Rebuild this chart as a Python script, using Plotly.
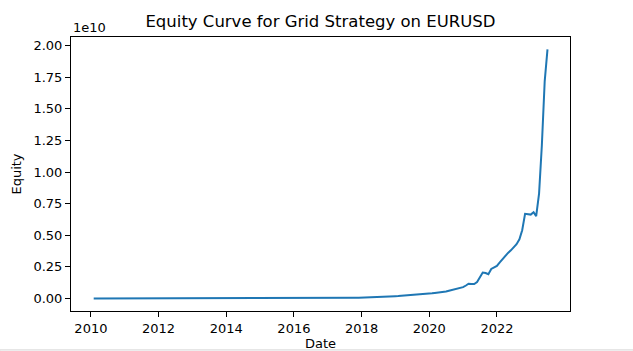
import pandas as pd
import plotly.graph_objects as go

# Month-end dates, Jan 2010 .. Jun 2023
dates = pd.date_range("2010-01-31", "2023-06-30", freq="ME")

# Equity in millions (read/estimated from the chart)
equity_m = [
    # 2010
    0.010, 0.011, 0.012, 0.013, 0.014, 0.016, 0.017, 0.019, 0.021, 0.023, 0.025, 0.027,
    # 2011
    0.030, 0.033, 0.036, 0.040, 0.044, 0.048, 0.053, 0.058, 0.064, 0.070, 0.077, 0.084,
    # 2012
    0.09, 0.10, 0.11, 0.12, 0.13, 0.14, 0.16, 0.17, 0.19, 0.21, 0.23, 0.25,
    # 2013
    0.28, 0.30, 0.33, 0.36, 0.40, 0.44, 0.48, 0.53, 0.58, 0.64, 0.70, 0.77,
    # 2014
    0.85, 0.93, 1.0, 1.1, 1.2, 1.35, 1.5, 1.6, 1.8, 1.95, 2.15, 2.35,
    # 2015
    2.6, 2.9, 3.2, 3.5, 3.8, 4.2, 4.6, 5.1, 5.6, 6.2, 6.8, 7.4,
    # 2016
    8.0, 8.8, 9.7, 10.7, 11.8, 13.0, 14.3, 15.7, 17.3, 19.0, 20.9, 23.0,
    # 2017
    25, 28, 31, 34, 37, 40, 44, 48, 52, 57, 62, 68,
    # 2018
    75, 100, 106, 113, 120, 128, 136, 145, 154, 164, 175, 187,
    # 2019
    200, 212, 225, 240, 255, 270, 287, 305, 325, 345, 366, 390,
    # 2020
    415, 440, 460, 490, 520, 550, 610, 660, 710, 770, 830, 900,
    # 2021
    1030, 1170, 1150, 1150, 1310, 1640, 2060, 2020, 1920, 2340, 2460, 2580,
    # 2022
    2860, 3120, 3330, 3610, 3810, 4020, 4300, 4680, 5400, 6700, 6670, 6640,
    # 2023
    6830, 6510, 8300, 12100, 17200, 19700,
]
equity = [v * 1e6 for v in equity_m]

y_tick_vals = [0, 0.25e10, 0.5e10, 0.75e10, 1.0e10, 1.25e10, 1.5e10, 1.75e10, 2.0e10]
y_tick_text = ["0.00", "0.25", "0.50", "0.75", "1.00", "1.25", "1.50", "1.75", "2.00"]
x_tick_vals = ["2010-01-01", "2012-01-01", "2014-01-01", "2016-01-01",
               "2018-01-01", "2020-01-01", "2022-01-01"]
x_tick_text = ["2010", "2012", "2014", "2016", "2018", "2020", "2022"]

font = "DejaVu Sans"

fig = go.Figure()
fig.add_trace(go.Scatter(
    x=dates, y=equity, mode="lines",
    line=dict(color="#1f77b4", width=2),
    showlegend=False,
))

fig.update_layout(
    autosize=False,
    width=633, height=351,
    margin=dict(l=71, r=63, t=37, b=40, autoexpand=False),
    paper_bgcolor="white", plot_bgcolor="white",
    font=dict(family=font, size=13, color="black"),
    title=dict(text="Equity Curve for Grid Strategy on EURUSD",
               x=320.5 / 633, xanchor="center",
               y=1 - 21 / 351, yanchor="middle",
               font=dict(family=font, size=16.5, color="black")),
    xaxis=dict(
        type="date",
        range=["2009-05-31", "2024-02-28"],
        tickvals=x_tick_vals, ticktext=x_tick_text,
        ticks="outside", ticklen=5, tickwidth=1, tickcolor="black",
        showline=True, linecolor="black", linewidth=1, mirror=True,
        showgrid=False, zeroline=False,
        tickfont=dict(family=font, size=13),
        title=dict(text="Date", standoff=10, font=dict(family=font, size=13)),
    ),
    yaxis=dict(
        range=[-0.0985e10, 2.0685e10],
        tickvals=y_tick_vals, ticktext=y_tick_text,
        ticks="outside", ticklen=5, tickwidth=1, tickcolor="black",
        showline=True, linecolor="black", linewidth=1, mirror=True,
        showgrid=False, zeroline=False,
        tickfont=dict(family=font, size=13),
        title=dict(text="Equity", standoff=8, font=dict(family=font, size=13)),
    ),
    annotations=[dict(
        text="1e10", xref="paper", yref="paper", x=0, y=1,
        xanchor="left", yanchor="bottom", showarrow=False,
        font=dict(family=font, size=13, color="black"),
    )],
    shapes=[dict(
        type="rect", xref="paper", yref="paper",
        x0=-71 / 499, x1=1 + 63 / 499, y0=-40 / 274, y1=-38.5 / 274,
        fillcolor="#f4f4f4", line=dict(color="#e6e6e6", width=1), layer="above",
    )],
)

fig.write_html("out.html")
